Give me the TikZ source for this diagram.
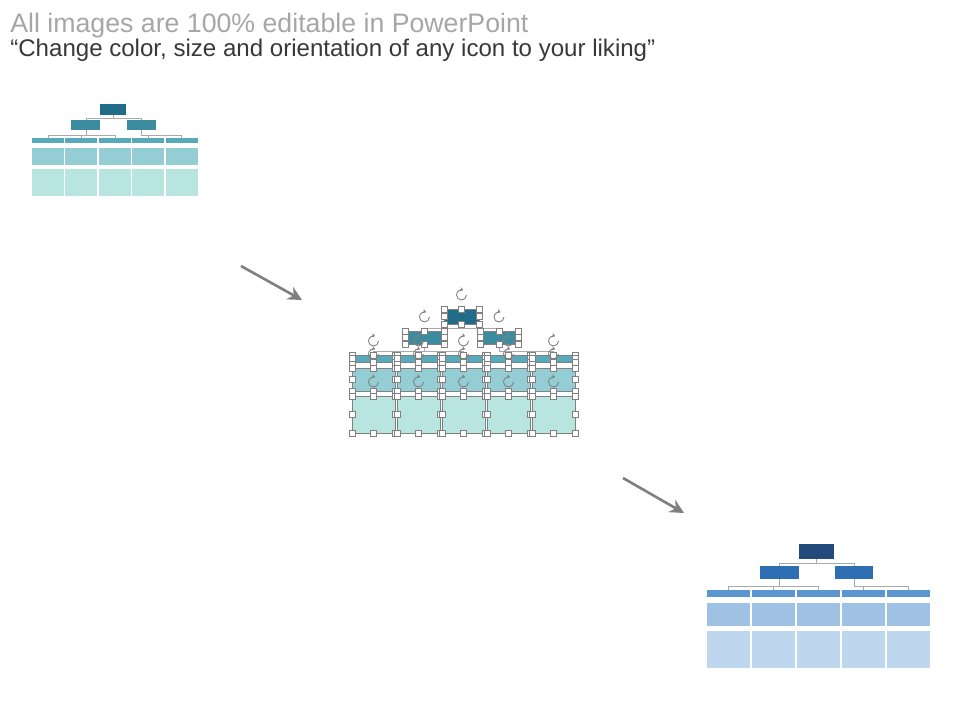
\documentclass[tikz,border=0pt]{standalone}
\usepackage{fontspec}
\setmainfont{Liberation Sans}
\usepackage{xcolor}
\definecolor{tltop}{RGB}{33,108,136}
\definecolor{tlmid}{RGB}{60,140,160}
\definecolor{tlhead}{RGB}{88,170,186}
\definecolor{tlrow}{RGB}{148,206,212}
\definecolor{tlbot}{RGB}{184,229,223}
\definecolor{bltop}{RGB}{34,74,122}
\definecolor{blmid}{RGB}{46,110,178}
\definecolor{blhead}{RGB}{92,150,208}
\definecolor{blrow}{RGB}{158,193,228}
\definecolor{blbot}{RGB}{190,215,238}
\definecolor{hdgray}{RGB}{166,166,166}
\definecolor{subgray}{RGB}{56,56,56}
\definecolor{arrgray}{RGB}{128,128,128}
\definecolor{linkgray}{RGB}{170,170,170}
\usetikzlibrary{arrows.meta, calc}

\newlength{\pxu}
\setlength{\pxu}{0.02cm}

% one org chart table, local pixel coordinates (y down)
\newcommand{\orgtable}[6]{%
  \node[cell, fill=#2, minimum width=35\pxu, minimum height=15\pxu] (#1top) at (109.5,7.5) {};
  \node[cell, fill=#3, minimum width=39\pxu, minimum height=13\pxu] (#1l) at (72.5,28.5) {};
  \node[cell, fill=#3, minimum width=38\pxu, minimum height=13\pxu] (#1r) at (147,28.5) {};
  \foreach \i in {0,...,4} {
    \node[cell, fill=#4, minimum width=43\pxu, minimum height=7\pxu] (#1h\i) at (21.5+45*\i,49.5) {};
    \node[cell, fill=#5, minimum width=43\pxu, minimum height=23\pxu] (#1m\i) at (21.5+45*\i,70.5) {};
    \node[cell, fill=#6, minimum width=43\pxu, minimum height=37\pxu] (#1b\i) at (21.5+45*\i,105.5) {};
  }
  \draw[link] (#1top.south) -- ++(0,4) -| (#1l.north);
  \draw[link] (#1top.south) -- ++(0,4) -| (#1r.north);
  \foreach \i in {0,1,2} {\draw[link] (#1l.south) -- ++(0,7) -| (#1h\i.north);}
  \foreach \i in {3,4} {\draw[link] (#1r.south) -- ++(0,7) -| (#1h\i.north);}
}

% selection handles round one shape
\newcommand{\selhandles}[1]{%
  \draw[selframe] (#1.north west) rectangle (#1.south east);
  \draw[rothandle] ($(#1.north)+(5,-14)$) arc[start angle=0, end angle=290, radius=5];
  \foreach \a in {north west,north,north east,east,south east,south,south west,west} {
    \filldraw[handle] ($(#1.\a)+(-3,-3)$) rectangle ++(6,6);
  }
}

\begin{document}
\begin{tikzpicture}[x=0.02cm, y=-0.02cm,
  cell/.style={inner sep=0pt, outer sep=0pt, draw=none},
  link/.style={linkgray, line width=0.5pt},
  selframe/.style={gray, line width=0.4pt},
  handle/.style={draw=gray, fill=white, line width=0.4pt},
  rothandle/.style={gray, line width=0.5pt, -{Stealth[length=2pt, width=2.4pt]}},
  bigarrow/.style={arrgray, line width=1.5pt, -{Stealth[length=8pt, width=8pt]}}]
\useasboundingbox (0,0) rectangle (960,720);

% Heading
\node[anchor=base west, inner sep=0pt, font=\fontsize{15.2}{18}\selectfont, hdgray] (title) at (10,32)
  {All images are 100\% editable in PowerPoint};
\node[anchor=base west, inner sep=0pt, font=\fontsize{13.7}{17}\selectfont, subgray] (subtitle) at (10,56)
  {“Change color, size and orientation of any icon to your liking”};

% --- Chart 1: small teal ---
\begin{scope}[shift={(32,104)}, scale=0.744, transform shape]
  \orgtable{a}{tltop}{tlmid}{tlhead}{tlrow}{tlbot}
\end{scope}

% --- Chart 2: selected teal ---
\begin{scope}[shift={(352,309)}, transform shape]
  \orgtable{s}{tltop}{tlmid}{tlhead}{tlrow}{tlbot}
\end{scope}
\foreach \n in {stop,sl,sr} {\selhandles{\n}}
\foreach \i in {0,...,4} {
  \selhandles{sh\i}
  \selhandles{sm\i}
  \selhandles{sb\i}
}

% --- Chart 3: blue ---
\begin{scope}[shift={(707,544)}, transform shape]
  \orgtable{c}{bltop}{blmid}{blhead}{blrow}{blbot}
\end{scope}

% Arrows between the charts
\coordinate (a1s) at (241,266);
\coordinate (a1e) at (302,300);
\coordinate (a2s) at (623,478);
\coordinate (a2e) at (684,513);
\draw[bigarrow] (a1s) -- (a1e);
\draw[bigarrow] (a2s) -- (a2e);

\end{tikzpicture}
\end{document}
